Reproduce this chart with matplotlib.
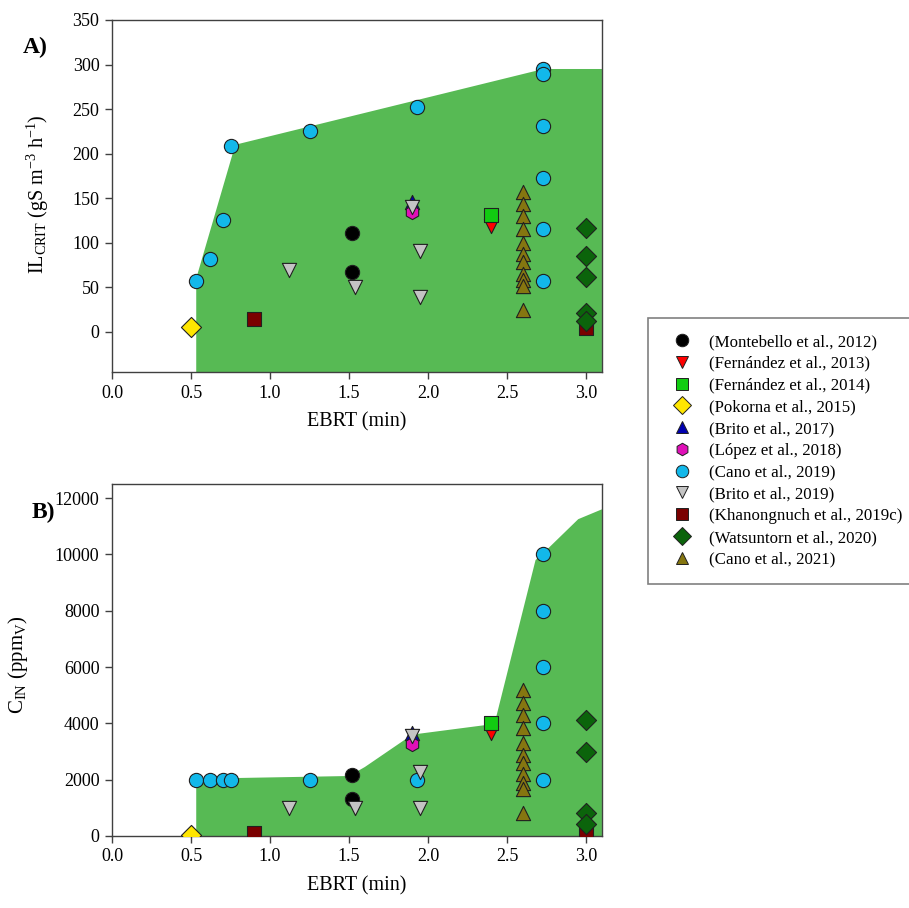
import numpy as np
import matplotlib
matplotlib.use("Agg")
import matplotlib.pyplot as plt
from matplotlib.lines import Line2D

plt.rcParams['font.family'] = ['Liberation Serif', 'DejaVu Serif']
plt.rcParams['mathtext.fontset'] = 'custom'
plt.rcParams['mathtext.rm'] = 'Liberation Serif'
plt.rcParams['mathtext.it'] = 'Liberation Serif:italic'
plt.rcParams['mathtext.default'] = 'regular'

# --- studies: label, marker, face colour ---
studies = [
    "(Montebello et al., 2012)",
    "(Fernández et al., 2013)",
    "(Fernández et al., 2014)",
    "(Pokorna et al., 2015)",
    "(Brito et al., 2017)",
    "(López et al., 2018)",
    "(Cano et al., 2019)",
    "(Brito et al., 2019)",
    "(Khanongnuch et al., 2019c)",
    "(Watsuntorn et al., 2020)",
    "(Cano et al., 2021)",
]
markers = ['o', 'v', 's', 'D', '^', 'h', 'o', 'v', 's', 'D', '^']
colors = ['#000000', '#ff0000', '#11cc11', '#ffe600', '#0000b0', '#e010b8',
          '#12b8ea', '#c4c4c4', '#7a0000', '#0b640b', '#857610']

# --- EBRT (min) per study, panel A ---
ebrt = [
    [1.52, 1.52],
    [2.40],
    [2.40],
    [0.50],
    [1.90],
    [1.90],
    [0.53, 0.62, 0.70, 0.75, 1.25, 1.93, 2.73, 2.73, 2.73, 2.73, 2.73, 2.73],
    [1.12, 1.54, 1.90, 1.95, 1.95],
    [0.90, 3.00],
    [3.00, 3.00, 3.00, 3.00, 3.00],
    [2.60] * 11,
]

# --- panel A: IL_CRIT (gS m-3 h-1) ---
il_crit = [
    [111, 67],
    [119],
    [131],
    [6],
    [146],
    [135],
    [57, 82, 126, 209, 225, 252, 295, 289, 231, 173, 115, 57],
    [69, 50, 140, 91, 39],
    [14, 4],
    [117, 85, 62, 21, 12],
    [157, 144, 130, 115, 100, 87, 78, 65, 58, 51, 25],
]

# --- EBRT (min) per study, panel B ---
ebrt_b = [
    [1.52, 1.52],
    [2.40],
    [2.40],
    [0.50],
    [1.90],
    [1.90],
    [0.53, 0.62, 0.70, 0.75, 1.25, 1.93, 2.73, 2.73, 2.73, 2.73, 2.73],
    [1.12, 1.54, 1.90, 1.95, 1.95],
    [0.90, 3.00],
    [3.00, 3.00, 3.00, 3.00],
    [2.60] * 11,
]

# --- panel B: C_IN (ppmV) ---
c_in = [
    [2150, 1300],
    [3650],
    [4020],
    [35],
    [3660],
    [3270],
    [2000, 2000, 2000, 2000, 2000, 2000, 10000, 8000, 6000, 4000, 2000],
    [980, 980, 3550, 2270, 980],
    [110, 120],
    [4130, 3000, 810, 430],
    [5200, 4730, 4280, 3830, 3310, 2860, 2600, 2190, 1890, 1680, 830],
]

# --- operating envelopes (green areas) ---
env_a_x = [0.533, 0.533, 0.78, 2.73, 3.10, 3.10]
env_a_y = [-45, 60, 210, 295, 295, -45]
env_b_x = [0.533, 0.533, 0.80, 1.50, 1.60, 1.90, 2.42, 2.68, 2.73, 2.95, 3.10, 3.10]
env_b_y = [0, 2010, 2060, 2130, 2450, 3600, 3980, 9800, 10050, 11250, 11600, 0]

FILL = '#57ba54'
SPINE = '#404040'


def style_axes(ax, ylim, yticks):
    ax.set_xlim(0, 3.1)
    ax.set_ylim(*ylim)
    ax.set_xticks(np.arange(0, 3.01, 0.5))
    ax.set_xticklabels([f"{v:.1f}" for v in np.arange(0, 3.01, 0.5)])
    ax.set_yticks(yticks)
    for s in ax.spines.values():
        s.set_color(SPINE)
        s.set_linewidth(1.0)
    ax.tick_params(direction='out', length=5, width=1, color=SPINE,
                   labelsize=13, pad=4, top=False, right=False)
    ax.set_xlabel("EBRT (min)", fontsize=14.5, labelpad=8)


def draw_points(ax, xs, ys):
    for i in range(len(studies)):
        ax.scatter(xs[i], ys[i], marker=markers[i], c=colors[i], s=105,
                   edgecolors='#202020', linewidths=0.8, zorder=3 + i)


fig = plt.figure(figsize=(9.09, 9.08), dpi=100)

axA = fig.add_axes([0.1232, 0.5903, 0.539, 0.3877])
axA.fill(env_a_x, env_a_y, color=FILL, lw=0, zorder=1)
draw_points(axA, ebrt, il_crit)
style_axes(axA, (-45, 350), np.arange(0, 351, 50))
axA.set_ylabel(r"IL$_{CRIT}$ (gS m$^{-3}$ h$^{-1}$)", fontsize=14.5)
axA.yaxis.set_label_coords(-0.125, 0.505)
fig.text(0.025, 0.948, "A)", fontsize=17, fontweight='bold', va='center')

axB = fig.add_axes([0.1232, 0.0793, 0.539, 0.3877])
axB.fill(env_b_x, env_b_y, color=FILL, lw=0, zorder=1)
draw_points(axB, ebrt_b, c_in)
style_axes(axB, (0, 12500), np.arange(0, 12001, 2000))
axB.set_ylabel(r"C$_{IN}$ (ppm$_{V}$)", fontsize=15)
axB.yaxis.set_label_coords(-0.168, 0.486)
fig.text(0.035, 0.436, "B)", fontsize=17, fontweight='bold', va='center')

handles = [Line2D([], [], ls='none', marker=markers[i], markerfacecolor=colors[i],
                  markeredgecolor='#202020', markeredgewidth=0.7, markersize=9)
           for i in range(len(studies))]
leg = fig.legend(handles, studies, loc='upper left',
                 bbox_to_anchor=(648 / 909, 1 - 318 / 908),
                 fontsize=12.2, frameon=True, fancybox=False,
                 edgecolor='#606060', borderpad=0.95, labelspacing=0.34,
                 handlelength=2.1, handletextpad=0.55, borderaxespad=0)
leg.get_frame().set_linewidth(1.2)

fig.savefig("out.png", dpi=100)
